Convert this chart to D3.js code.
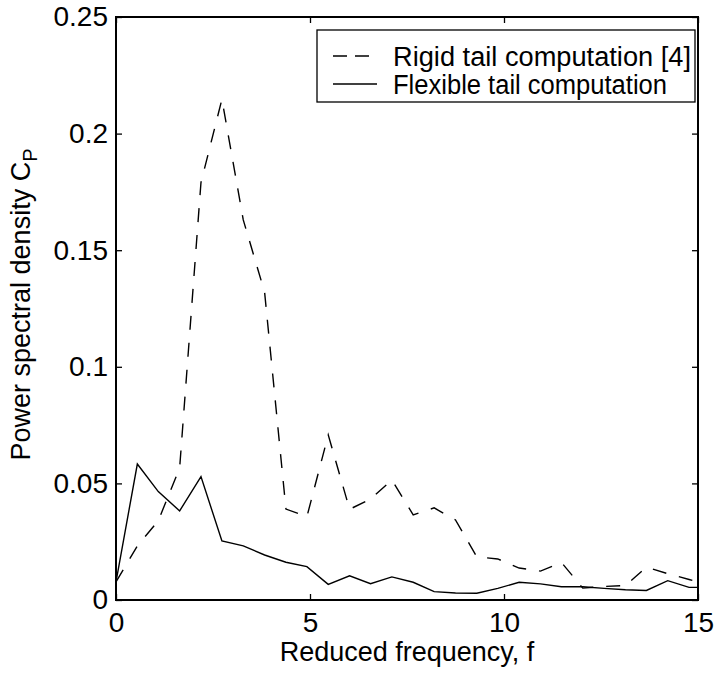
<!DOCTYPE html>
<html>
<head>
<meta charset="utf-8">
<script src="https://cdn.jsdelivr.net/npm/d3@7"></script>
<style>
  body { margin: 0; background: #fff; }
  svg { display: block; font-family: "Liberation Sans", Arial, Helvetica, sans-serif; }
</style>
</head>
<body>
<div id="viz-container"></div>
<script>
// reduced frequency samples
let freq = [0, 0.55, 1.09, 1.64, 2.19, 2.73, 3.28, 3.83, 4.38, 4.92,
            5.47, 6.02, 6.56, 7.11, 7.66, 8.20, 8.75, 9.30, 9.84, 10.39,
            10.94, 11.48, 12.03, 12.58, 13.13, 13.67, 14.22, 14.77, 15];

// rigid tail computation [4] (dashed)
let rigid = [0.0078, 0.0232, 0.034, 0.0566, 0.179, 0.2147, 0.163, 0.132, 0.039, 0.0357,
             0.0708, 0.0389, 0.0433, 0.0515, 0.0365, 0.0395, 0.0343, 0.0185, 0.0176, 0.0137,
             0.0124, 0.0161, 0.0051, 0.0058, 0.0062, 0.0141, 0.0113, 0.0088, 0.0077];

// flexible tail computation (solid)
let flexible = [0.0078, 0.0583, 0.0465, 0.0382, 0.0529, 0.0253, 0.0232, 0.0193, 0.0162, 0.0143,
                0.0067, 0.0104, 0.0070, 0.0099, 0.0076, 0.0036, 0.0030, 0.0029, 0.0050, 0.0076,
                0.0069, 0.0057, 0.0057, 0.0050, 0.0044, 0.0041, 0.0083, 0.0054, 0.0054];

let xTicks = [0, 5, 10, 15];
let yTicks = [0, 0.05, 0.1, 0.15, 0.2, 0.25];
let yTickLabels = ["0", "0.05", "0.1", "0.15", "0.2", "0.25"];
let seriesNames = ["Rigid tail computation [4]", "Flexible tail computation"];

let W = 717, H = 673;
let margin = {top: 17, right: 19, bottom: 73, left: 116};
let fs = 28;  // tick font size

let viz = d3.select("#viz-container")
  .append("svg")
    .attr("width", W)
    .attr("height", H)
;

let x = d3.scaleLinear().domain([0, 15]).range([margin.left, W - margin.right]);
let y = d3.scaleLinear().domain([0, 0.25]).range([H - margin.bottom, margin.top]);

// axes (ticks point inward, on all four sides)
let xb = viz.append("g")
    .attr("transform", `translate(0, ${y(0)})`)
    .call(d3.axisBottom(x).tickValues(xTicks).tickFormat(d3.format("d")).tickSize(-6).tickSizeOuter(0).tickPadding(12));
let xt = viz.append("g")
    .attr("transform", `translate(0, ${y(0.25)})`)
    .call(d3.axisTop(x).tickValues(xTicks).tickFormat("").tickSize(-6).tickSizeOuter(0));
let yl = viz.append("g")
    .attr("transform", `translate(${x(0)}, 0)`)
    .call(d3.axisLeft(y).tickValues(yTicks).tickFormat((d, i) => yTickLabels[i]).tickSize(-6).tickSizeOuter(0).tickPadding(8));
let yr = viz.append("g")
    .attr("transform", `translate(${x(15)}, 0)`)
    .call(d3.axisRight(y).tickValues(yTicks).tickFormat("").tickSize(-6).tickSizeOuter(0));

[xb, xt, yl, yr].forEach(g => {
  g.select(".domain").remove();
  g.selectAll(".tick line").attr("stroke", "#000").attr("stroke-width", 1.3);
  g.selectAll("text").attr("font-size", fs).attr("font-family", null).attr("fill", "#000");
});

// clip lines to the plot box
viz.append("clipPath").attr("id", "plotclip")
  .append("rect")
    .attr("x", x(0)).attr("y", y(0.25))
    .attr("width", x(15) - x(0)).attr("height", y(0) - y(0.25));

let line = d3.line()
    .x(d => x(d[0]))
    .y(d => y(d[1]));

let plot = viz.append("g").attr("clip-path", "url(#plotclip)");

plot.append("path")
    .datum(d3.zip(freq, rigid))
    .attr("d", line)
    .attr("fill", "none")
    .attr("stroke", "#000")
    .attr("stroke-width", 1.4)
    .attr("stroke-dasharray", "14,13");

plot.append("path")
    .datum(d3.zip(freq, flexible))
    .attr("d", line)
    .attr("fill", "none")
    .attr("stroke", "#000")
    .attr("stroke-width", 1.4);

// frame
viz.append("rect")
    .attr("x", x(0)).attr("y", y(0.25))
    .attr("width", x(15) - x(0)).attr("height", y(0) - y(0.25))
    .attr("fill", "none")
    .attr("stroke", "#000")
    .attr("stroke-width", 2);

// axis titles
viz.append("text")
    .attr("x", (x(0) + x(15)) / 2)
    .attr("y", 661)
    .attr("text-anchor", "middle")
    .attr("font-size", 27)
    .text("Reduced frequency, f");

let yt = viz.append("text")
    .attr("transform", `translate(30, ${(y(0) + y(0.25)) / 2 - 4}) rotate(-90)`)
    .attr("text-anchor", "middle")
    .attr("font-size", 27);
yt.append("tspan").text("Power spectral density C");
yt.append("tspan").attr("dy", 7).attr("font-size", 20).text("P");

// legend
let lg = viz.append("g");
lg.append("rect")
    .attr("x", 317).attr("y", 30)
    .attr("width", 378).attr("height", 72)
    .attr("fill", "#fff")
    .attr("stroke", "#000")
    .attr("stroke-width", 1.3);

let rows = lg.selectAll("g.row").data(seriesNames).enter()
  .append("g")
    .attr("class", "row")
    .attr("transform", (d, i) => `translate(0, ${56 + i * 28})`);

rows.append("line")
    .attr("x1", 333).attr("x2", 377)
    .attr("y1", 0).attr("y2", 0)
    .attr("stroke", "#000")
    .attr("stroke-width", 1.4)
    .attr("stroke-dasharray", (d, i) => i == 0 ? "14,8" : null);

rows.append("text")
    .attr("x", 393)
    .attr("dy", "0.36em")
    .attr("font-size", 27)
    .attr("textLength", (d, i) => i == 0 ? 298 : 274)
    .attr("lengthAdjust", "spacingAndGlyphs")
    .text(d => d);
</script>
</body>
</html>
